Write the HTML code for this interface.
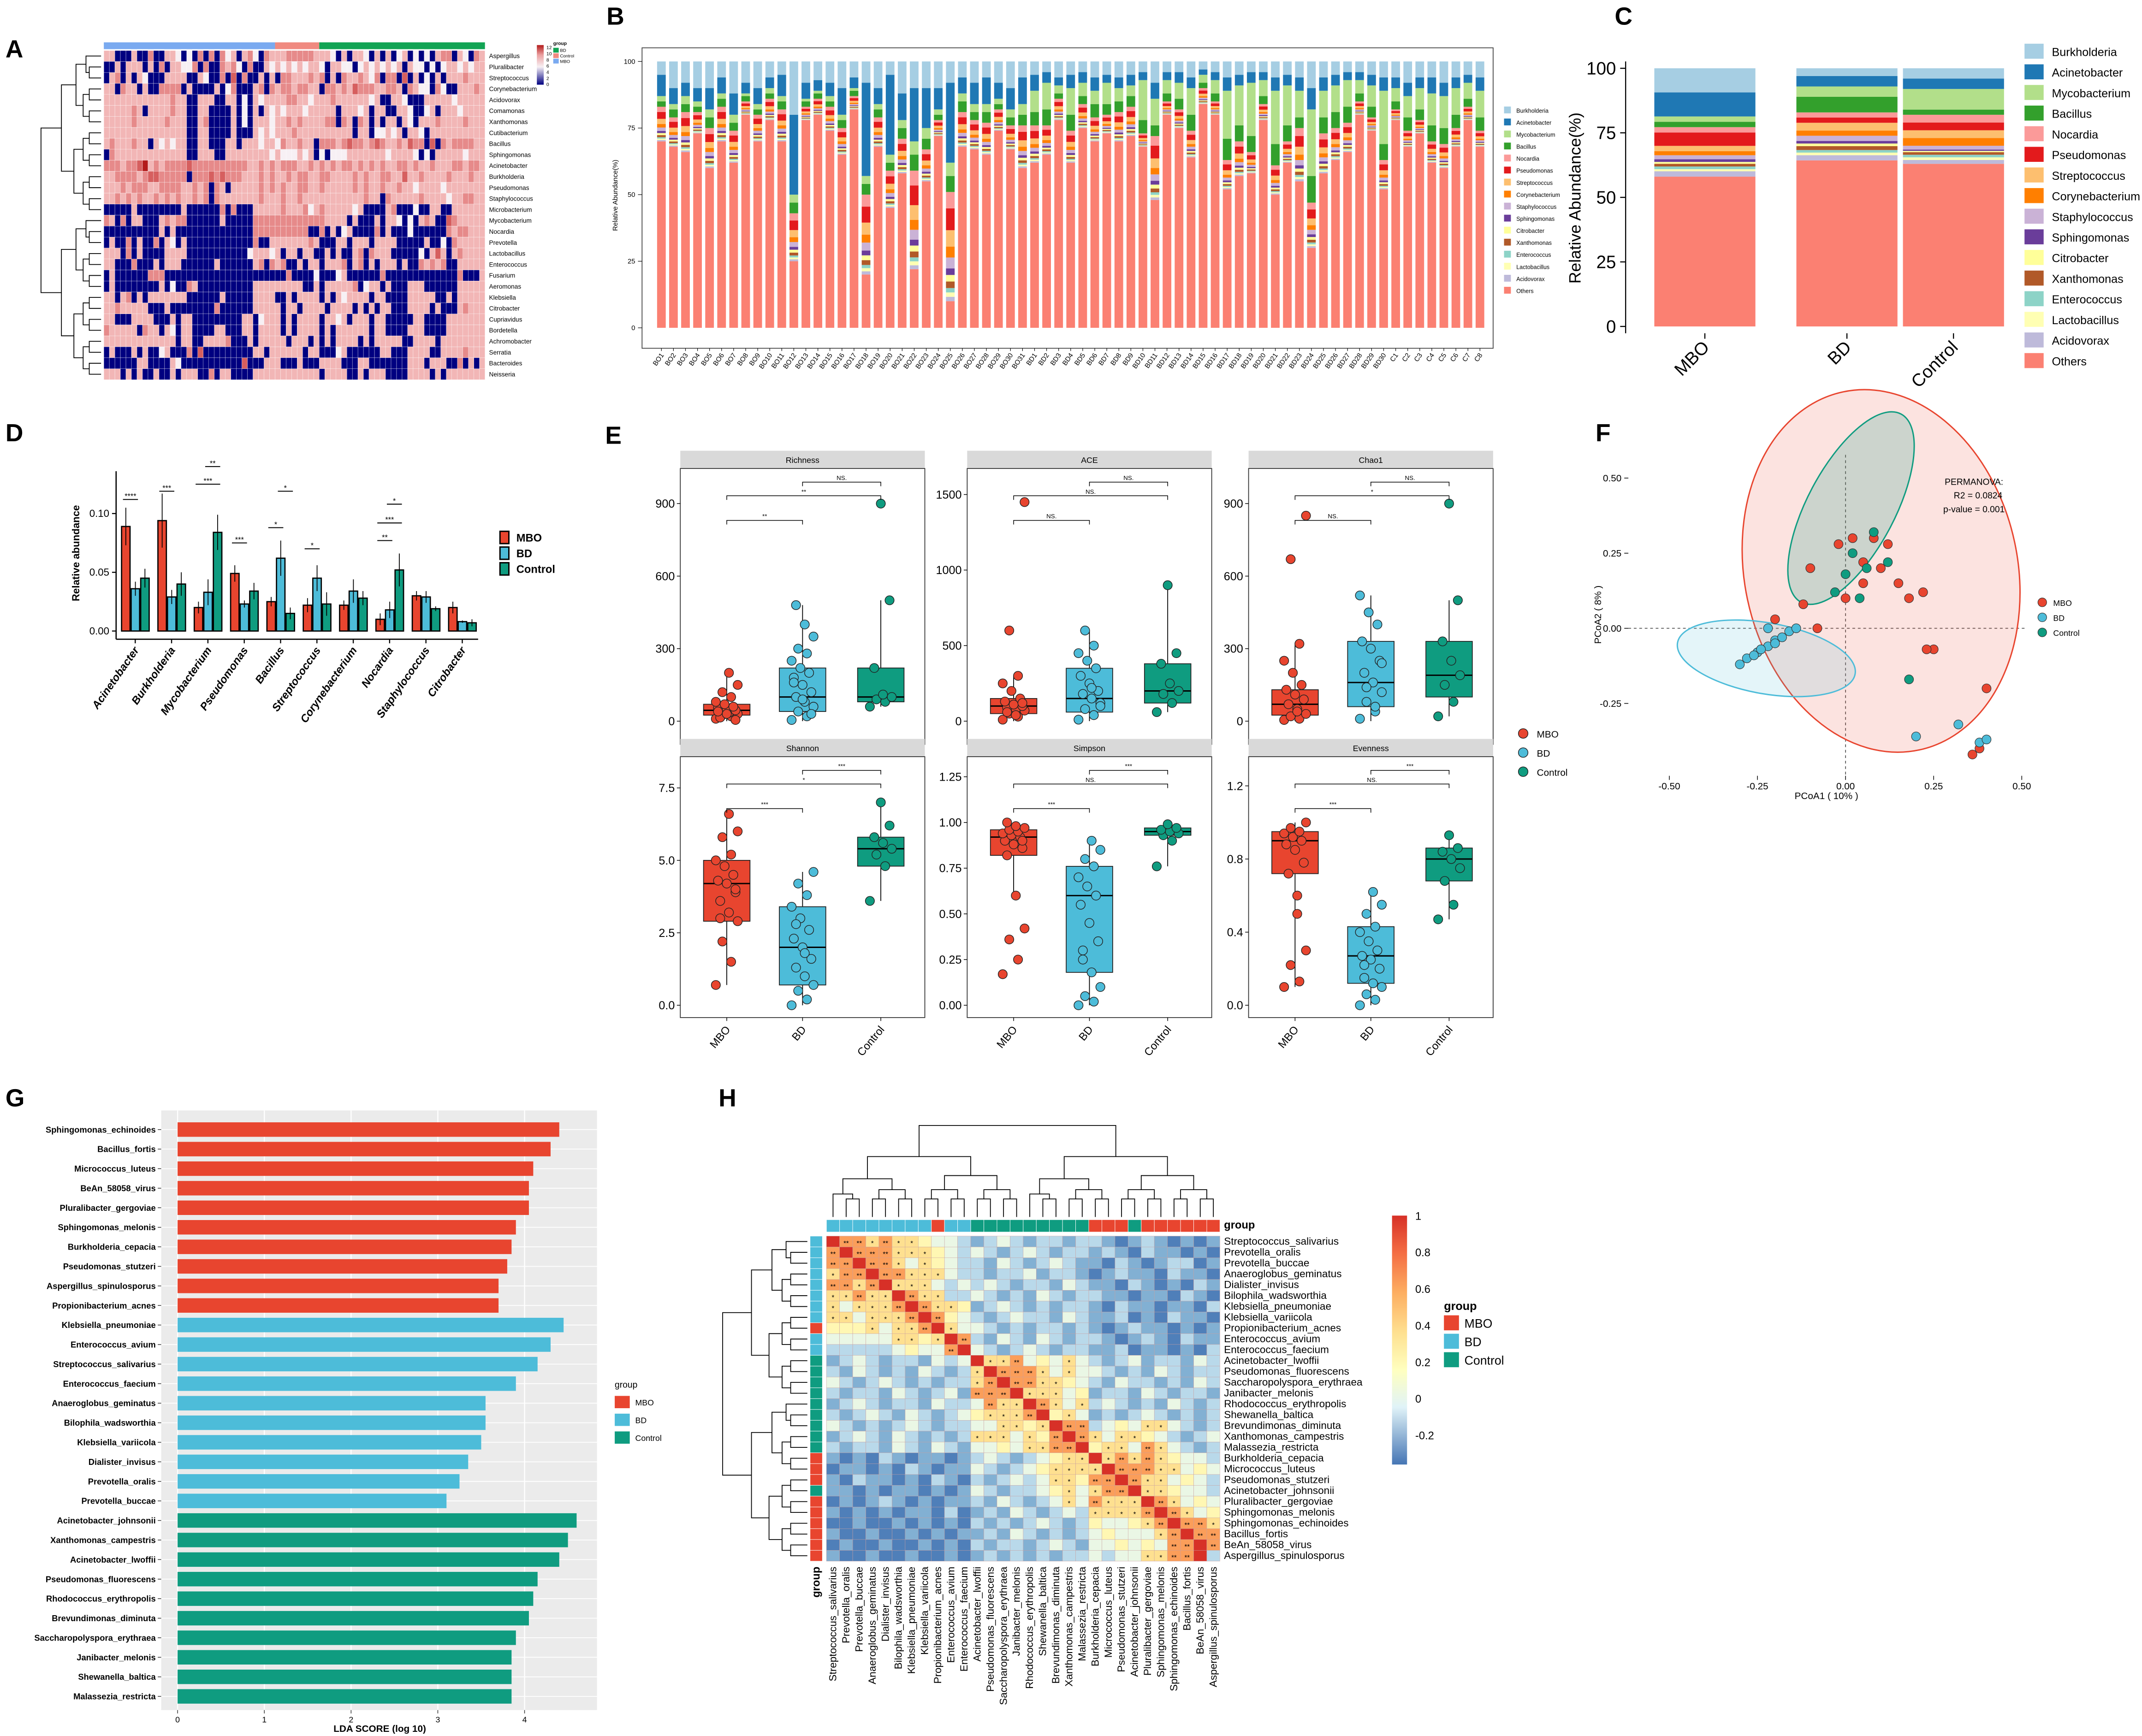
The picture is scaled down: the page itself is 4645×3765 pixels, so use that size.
<!DOCTYPE html>
<html><head><meta charset="utf-8">
<style>
html,body{margin:0;padding:0;background:#fff;}
svg{display:block;font-family:"Liberation Sans",sans-serif;}
</style></head>
<body>
<svg id="fig" xmlns="http://www.w3.org/2000/svg" width="4645" height="3765" viewBox="0 0 1568 1271" preserveAspectRatio="none"></svg>
<script>
// ================= DATA =================
// Panel A heatmap
const hmGenera=["Aspergillus","Pluralibacter","Streptococcus","Corynebacterium","Acidovorax","Comamonas","Xanthomonas","Cutibacterium","Bacillus","Sphingomonas","Acinetobacter","Burkholderia","Pseudomonas","Staphylococcus","Microbacterium","Mycobacterium","Nocardia","Prevotella","Lactobacillus","Enterococcus","Fusarium","Aeromonas","Klebsiella","Citrobacter","Cupriavidus","Bordetella","Achromobacter","Serratia","Bacteroides","Neisseria"];
const hmGroups=["MBO","Control","BD"];
const hmGroupSizes=[31,8,30];
const hmRows=[
"22000200300221010303031202310322233333222102022102020120101023302103",
"00202220203022113030032310300212121212210221101212121202110101221212",
"02302021000222200210030403002020332223230203223213033040201020222322",
"22032202003333020000201300023032332332203323243332233203211031002223",
"22222222222232200222002201021222233221222322222212002210002222212222",
"22222320222232200220000201020212122212222202221202200221001202221222",
"22222322222322200230000201022212232322223303203202022021022232222322",
"22222222222222200220000200021212223222222222202201121202210222222222",
"23222322021212200220002202221221322322033323433234322324330403233332",
"03222222222222200222002222222212111212010111222222212222101022222122",
"33323345232333343333333333223232333223232323323232322332322322233233",
"22333323443333303334343332223232232332233222232322332242232222322232",
"22232333223333223230320222223232322332232222232322322322122221222222",
"22323232232323223230322222223222322322222222222322032222232222122332",
"00000200000000200000030300022222322231232222212000023000100220022222",
"32030220002323300000020000033333333333332222020002022101023200432222",
"00000000002020000000000000033333333330030201200003020001000000323322",
"02003020030210200000000000030022222223200022022202222000002001032222",
"22203020000222200000000000122212022022002020023032220000010242023222",
"22000300020222000000200000023032300202202223023020222020032323002222",
"02000000333000000000000000000000030000100012000000300000000000003000",
"02000000002010032000000000022222222200202222230122020002220000002222",
"22023020222222200000020000022220020222202021222202200002222200202222",
"22322222000200000000300000022222022022220222202020220002222020002322",
"22000222200020220000000002201222020222202212022202200000220000222222",
"32222203220210220000220002202222020222202022222202200002220000222222",
"22222222222220220022223000202222202220202022220202222200222202222222",
"02000202001200030400000000022022222202200012000000220002222002222322",
"00000022000021000000000004000222000200022220002200000002220222003020",
"22202020020020222003022000022222222222202222002022200002222020222222"];
// Panel B stacked bars
const bSamples=["BO1","BO2","BO3","BO4","BO5","BO6","BO7","BO8","BO9","BO10","BO11","BO12","BO13","BO14","BO15","BO16","BO17","BO18","BO19","BO20","BO21","BO22","BO23","BO24","BO25","BO26","BO27","BO28","BO29","BO30","BO31","BD1","BD2","BD3","BD4","BD5","BD6","BD7","BD8","BD9","BD10","BD11","BD12","BD13","BD14","BD15","BD16","BD17","BD18","BD19","BD20","BD21","BD22","BD23","BD24","BD25","BD26","BD27","BD28","BD29","BD30","C1","C2","C3","C4","C5","C6","C7","C8"];
const bOthers=[70,68,66,73,60,70,62,80,70,78,70,25,78,80,74,65,82,20,68,45,58,22,55,72,10,68,67,65,74,67,60,62,65,78,62,75,70,73,70,72,68,48,80,75,64,84,80,52,57,58,78,50,62,55,30,58,63,66,80,74,52,78,68,73,62,60,68,78,68];
const bBurk=[5,10,8,10,10,6,12,8,10,6,5,20,8,7,8,10,6,8,10,5,12,10,10,10,8,6,8,6,8,10,6,5,4,6,5,4,6,5,6,5,4,8,4,4,6,3,4,6,5,4,4,6,5,6,10,6,5,4,4,5,6,6,8,6,6,8,6,5,6];
const bAcin=[8,6,5,5,8,6,8,4,6,4,8,30,6,4,5,10,4,35,6,30,10,20,15,8,30,6,8,10,6,8,10,6,4,3,5,4,5,3,4,4,3,6,3,4,4,2,3,5,4,4,3,5,4,5,8,5,4,3,3,4,5,4,5,4,6,5,4,3,5];
const bMyco=[2,2,3,2,3,2,3,1,2,2,2,3,1,1,2,2,1,3,2,3,3,5,4,2,5,3,3,3,2,3,4,8,10,3,10,5,5,8,5,4,15,10,5,6,10,3,5,18,15,20,6,20,15,10,25,10,10,10,5,8,20,5,8,8,12,12,10,6,10];
const bBacil=[2,3,3,2,4,3,3,2,2,2,3,4,2,2,2,3,2,4,3,3,4,6,4,2,6,4,3,4,2,3,4,5,6,2,6,3,5,4,4,4,5,4,3,4,6,2,3,8,6,6,3,8,6,4,10,6,6,6,3,4,6,3,5,4,6,6,5,3,5];
const taxa=["Burkholderia","Acinetobacter","Mycobacterium","Bacillus","Nocardia","Pseudomonas","Streptococcus","Corynebacterium","Staphylococcus","Sphingomonas","Citrobacter","Xanthomonas","Enterococcus","Lactobacillus","Acidovorax","Others"];
const taxaColors=["#a6cee3","#1f78b4","#b2df8a","#33a02c","#fb9a99","#e31a1c","#fdbf6f","#ff7f00","#cab2d6","#6a3d9a","#ffff99","#b15928","#8dd3c7","#ffffb3","#bebada","#fb8072"];
const restShare=[0,0,0,0,0.15,0.2,0.15,0.1,0.1,0.06,0.06,0.06,0.04,0.04,0.04,0];
// Panel C group composition (order = taxa)
const cGroups=["MBO","BD","Control"];
const cMBO=[9,9,2,2,2,5,2,1.5,1.5,1,0.7,1,1,0.8,2,56];
const cBD=[3,4,4,6,2,2,3,2,2,1,1,1.5,1,1,2,64];
const cCtrl=[4,4,8,2,3,3,3,3,1.5,0.5,0.5,1,1,1,1.5,63];
// Panel D
const dGenera=["Acinetobacter","Burkholderia","Mycobacterium","Pseudomonas","Bacillus","Streptococcus","Corynebacterium","Nocardia","Staphylococcus","Citrobacter"];
const dMBO=[0.089,0.094,0.020,0.049,0.025,0.022,0.022,0.010,0.030,0.020];
const dBD=[0.036,0.029,0.033,0.023,0.062,0.045,0.034,0.018,0.029,0.008];
const dCtrl=[0.045,0.040,0.084,0.034,0.015,0.023,0.028,0.052,0.019,0.007];
const dErrMBO=[0.016,0.023,0.005,0.007,0.004,0.006,0.004,0.005,0.004,0.005];
const dErrBD=[0.006,0.006,0.011,0.003,0.015,0.011,0.010,0.007,0.005,0.001];
const dErrCtrl=[0.008,0.010,0.015,0.007,0.005,0.010,0.006,0.014,0.002,0.003];
const dTicks=[0,0.05,0.10];
// Panel E
const eFacets=["Richness","ACE","Chao1","Shannon","Simpson","Evenness"];
const eTicks=[[0,300,600,900],[0,500,1000,1500],[0,300,600,900],[0.0,2.5,5.0,7.5],[0.00,0.25,0.50,0.75,1.00,1.25],[0.0,0.4,0.8,1.2]];
const eTickLabels=[["0","300","600","900"],["0","500","1000","1500"],["0","300","600","900"],["0.0","2.5","5.0","7.5"],["0.00","0.25","0.50","0.75","1.00","1.25"],["0.0","0.4","0.8","1.2"]];
const eMax=[1000,1600,1000,8.2,1.3,1.3];
const eBoxMBO=[[0,25,45,70,200],[0,50,100,150,300],[0,25,70,130,320],[0.7,2.9,4.2,5.0,6.6],[0.6,0.82,0.92,0.96,1.0],[0.1,0.72,0.9,0.95,1.0]];
const eBoxBD=[[0,40,100,220,480],[0,60,150,350,600],[0,60,160,330,520],[0,0.7,2.0,3.4,4.6],[0,0.18,0.6,0.76,0.9],[0,0.12,0.27,0.43,0.62]];
const eBoxCtrl=[[60,80,100,220,500],[60,120,200,380,900],[20,100,190,330,500],[3.6,4.8,5.4,5.8,7.0],[0.76,0.93,0.95,0.97,0.99],[0.47,0.68,0.8,0.86,0.93]];
const ePtsMBO=[[10,20,25,30,35,40,45,50,55,60,70,80,100,120,150,200,15,5,30,40],[10,30,50,70,80,90,100,110,130,150,200,250,300,600,1450,40,60,120],[5,10,20,30,50,70,90,110,130,150,200,250,320,670,850,40],[0.7,1.5,2.2,2.9,3.2,3.6,3.9,4.2,4.3,4.5,4.8,5.0,5.2,5.8,6.0,6.6,3.0,4.0],[0.17,0.25,0.36,0.42,0.6,0.82,0.86,0.88,0.9,0.92,0.93,0.94,0.95,0.96,0.97,0.98,1.0,0.9],[0.1,0.13,0.22,0.3,0.5,0.72,0.78,0.85,0.88,0.9,0.92,0.94,0.95,0.97,1.0,0.6]];
const ePtsBD=[[5,20,40,60,80,100,120,150,180,200,220,250,280,300,350,400,480,30,90,160],[10,40,80,120,150,180,200,250,300,350,400,450,500,600,100,220],[10,40,80,120,160,200,250,300,330,400,450,520,60,140,240],[0,0.2,0.5,0.7,1.0,1.3,1.6,2.0,2.3,2.6,3.0,3.4,3.8,4.2,4.6,1.8,2.8],[0,0.02,0.05,0.1,0.18,0.25,0.35,0.45,0.55,0.6,0.65,0.7,0.76,0.8,0.85,0.9,0.3],[0,0.03,0.06,0.1,0.12,0.15,0.2,0.25,0.27,0.3,0.35,0.4,0.43,0.5,0.55,0.62,0.22]];
const ePtsCtrl=[[60,80,90,100,110,220,500,900],[60,120,180,200,250,380,450,900],[20,80,150,190,250,330,500,900],[3.6,4.8,5.2,5.4,5.6,5.8,6.2,7.0],[0.76,0.9,0.93,0.94,0.95,0.96,0.97,0.99],[0.47,0.55,0.68,0.75,0.8,0.84,0.86,0.93]];
const eSig=[["NS.","**","**"],["NS.","NS.","NS."],["NS.","*","NS."],["***","*","***"],["***","NS.","***"],["***","NS.","***"]];
// Panel F PCoA
const fMBOx=[0.1,0.05,0.12,0.08,0.02,-0.02,0.15,0.22,0.25,0.23,0.4,0.38,0.36,-0.1,-0.2,-0.12,0.0,-0.08,0.18,0.05];
const fMBOy=[0.2,0.22,0.28,0.3,0.3,0.28,0.15,0.12,-0.07,-0.07,-0.2,-0.4,-0.42,0.2,0.03,0.08,0.1,0.0,0.1,0.15];
const fBDx=[-0.3,-0.28,-0.25,-0.22,-0.2,-0.18,-0.26,-0.24,-0.16,-0.14,0.2,0.38,0.4,0.32,-0.22,-0.2];
const fBDy=[-0.12,-0.1,-0.08,-0.06,-0.04,-0.03,-0.09,-0.07,-0.01,0.0,-0.36,-0.38,-0.37,-0.32,0.0,-0.05];
const fCtrlx=[0.02,0.0,0.06,0.08,-0.03,0.04,0.18,0.12];
const fCtrly=[0.25,0.18,0.2,0.32,0.12,0.1,-0.17,0.22];
const fTicks=[-0.5,-0.25,0,0.25,0.5];
const fTickLabels=["-0.50","-0.25","0.00","0.25","0.50"];
// Panel G LDA
const gTaxa=["Sphingomonas_echinoides","Bacillus_fortis","Micrococcus_luteus","BeAn_58058_virus","Pluralibacter_gergoviae","Sphingomonas_melonis","Burkholderia_cepacia","Pseudomonas_stutzeri","Aspergillus_spinulosporus","Propionibacterium_acnes","Klebsiella_pneumoniae","Enterococcus_avium","Streptococcus_salivarius","Enterococcus_faecium","Anaeroglobus_geminatus","Bilophila_wadsworthia","Klebsiella_variicola","Dialister_invisus","Prevotella_oralis","Prevotella_buccae","Acinetobacter_johnsonii","Xanthomonas_campestris","Acinetobacter_lwoffii","Pseudomonas_fluorescens","Rhodococcus_erythropolis","Brevundimonas_diminuta","Saccharopolyspora_erythraea","Janibacter_melonis","Shewanella_baltica","Malassezia_restricta"];
const gLDA=[4.4,4.3,4.1,4.05,4.05,3.9,3.85,3.8,3.7,3.7,4.45,4.3,4.15,3.9,3.55,3.55,3.5,3.35,3.25,3.1,4.6,4.5,4.4,4.15,4.1,4.05,3.9,3.85,3.85,3.85];
const gGroup=["MBO","MBO","MBO","MBO","MBO","MBO","MBO","MBO","MBO","MBO","BD","BD","BD","BD","BD","BD","BD","BD","BD","BD","Control","Control","Control","Control","Control","Control","Control","Control","Control","Control"];
const gTicks=[0,1,2,3,4];
// Panel H correlation
const hTaxa=["Streptococcus_salivarius","Prevotella_oralis","Prevotella_buccae","Anaeroglobus_geminatus","Dialister_invisus","Bilophila_wadsworthia","Klebsiella_pneumoniae","Klebsiella_variicola","Propionibacterium_acnes","Enterococcus_avium","Enterococcus_faecium","Acinetobacter_lwoffii","Pseudomonas_fluorescens","Saccharopolyspora_erythraea","Janibacter_melonis","Rhodococcus_erythropolis","Shewanella_baltica","Brevundimonas_diminuta","Xanthomonas_campestris","Malassezia_restricta","Burkholderia_cepacia","Micrococcus_luteus","Pseudomonas_stutzeri","Acinetobacter_johnsonii","Pluralibacter_gergoviae","Sphingomonas_melonis","Sphingomonas_echinoides","Bacillus_fortis","BeAn_58058_virus","Aspergillus_spinulosporus"];
const hGroup=["BD","BD","BD","BD","BD","BD","BD","BD","MBO","BD","BD","Control","Control","Control","Control","Control","Control","Control","Control","Control","MBO","MBO","MBO","Control","MBO","MBO","MBO","MBO","MBO","MBO"];
const hRows=[
"RooyoyypwwlblwlbllbllbBblbBbBb","oRoooyyypwlwlblwlbllblbBlbbBbB","ooRooywypwllbwlblwlbbBlbBbllBb","yooRooyyywllbllwbllbBblbbBlbbB",
"ooyoRyyywlwlwlbllbwlbbBlbBbBlb","yyoyyRoyyllwlblbwlbllbbBbbBlbB","ywyyyoRoyypblwlblbllbBlbbBbbBl","yywyyyoRopwlblwllbwlbblBbBlbbB",
"pppywyyoRywwlblbllblbBblbbBbBb","wwwwwyypyRolbwlbwlbllbBblbBlbb","lllllwpwwoRwlblwlbllbblBbbBbBl",
"blwlbllbwlwRyyowpwywlblwbllbwl","lbwlblbwlblyRoooywywwlblbwlbll","wlblwlblbllyoRooyypwlbwllblbwl","lbllbwlblwboooRyyywpbllbwlbllb",
"blwlbllbwllwoyyRoywylwlblbwlbl","lblwlbwlblwpyyyoRpywblblwlblbl","wlblblwlbllwwyypyRoolwpwyywlbl","blwlbwlblblyyywypoRoywyypwlblw","lbllbwlbwlbwwpwyyooRpyywoywlbl",
"bBbBlbBbbBblwlblwpyyRyoyoypwwl","BbbBbBlbBbbwlblwpyyyyRoooyywpw","bBlbbBbBlbBlblwlwyypooRoyywpwl","bbBbBbbBbBbwlbllwpywyooRyypwwl",
"BbBblbBbBbblbwlblwywoyyyRoywpw","bBbBbBbbBlBblbwlblwlyyyyoRoywp","BBbBBbBbBbBlblblwlblpwwpyoRooy","bBBbBBbBbBbblbwlblblwpwwwyoRoo",
"BbBBbBBbBbBlbllblwlbwwpwpwooRo","bBBbBBbBBbBblblblbllwlwwyyooR"];
const hLevels={R:1.0,o:0.65,y:0.4,p:0.25,w:0.1,l:0.0,b:-0.08,B:-0.18};
const hTicks=[1,0.8,0.6,0.4,0.2,0,-0.2];
const hTickLabels=["1","0.8","0.6","0.4","0.2","0","-0.2"];

// ================= HELPERS =================
const NS="http://www.w3.org/2000/svg";
const svg=document.getElementById('fig');
function mk(tag,attrs,name,parent,inter){
  const el=document.createElementNS(NS,tag);
  for(const k in attrs) el.setAttribute(k,attrs[k]);
  
  
  (parent||svg).appendChild(el);
  return el;
}
function txt(x,y,s,size,name,opt){
  opt=opt||{};
  const a={x:x,y:y,'font-size':size,fill:opt.fill||'#000'};
  if(opt.anchor) a['text-anchor']=opt.anchor;
  if(opt.weight) a['font-weight']=opt.weight;
  if(opt.style) a['font-style']=opt.style;
  if(opt.rot!==undefined) a.transform='rotate('+opt.rot+' '+x+' '+y+')';
  const t=mk('text',a,name,opt.parent,false);
  t.textContent=s;
  return t;
}
function line(x1,y1,x2,y2,name,st,w,parent,dash){
  const a={x1:x1,y1:y1,x2:x2,y2:y2,stroke:st||'#000','stroke-width':w||0.6};
  if(dash) a['stroke-dasharray']=dash;
  return mk('line',a,name,parent,false);
}
function rect(x,y,w,h,fill,name,parent,stroke,sw){
  const a={x:x,y:y,width:Math.max(0,w),height:Math.max(0,h),fill:fill};
  if(stroke){a.stroke=stroke;a['stroke-width']=sw||0.5;}
  return mk('rect',a,name,parent,false);
}
function group(name){return mk('g',{},name,svg,false);}
function dendro(g,pos,base,depth,orient,name){
  function rec(lo,hi,lvl){
    if(hi-lo<=1){return {p:pos[lo],h:base};}
    const mid=Math.floor((lo+hi)/2);
    const a=rec(lo,mid,lvl+1), b=rec(mid,hi,lvl+1);
    const h=base+depth*Math.pow((hi-lo)/pos.length,0.6);
    let d;
    if(orient==='left') d='M'+(a.h)+' '+a.p+'H'+(h)+'V'+b.p+'H'+(b.h);
    else d='M'+a.p+' '+a.h+'V'+h+'H'+b.p+'V'+b.h;
    mk('path',{d:d,fill:'none',stroke:'#000','stroke-width':0.6},name,g,false);
    return {p:(a.p+b.p)/2,h:h};
  }
  rec(0,pos.length,0);
}
function panelLabel(x,y,s){txt(x,y,s,18,'panel-label-'+s.toLowerCase(),{weight:'bold'});}

// ================= PANEL A =================
(function(){
  const g=group('panel-a-heatmap');
  const x0=76,x1=355,y0=37,y1=278;
  const nC=hmGroupSizes.reduce((a,b)=>a+b,0);
  const cw=(x1-x0)/nC, rh=(y1-y0)/hmGenera.length;
  const lvCol=['#000080','#f7f0f4','#f2b6b6','#e68a8a','#d65f5f','#b31b1b'];
  const grpCol={MBO:'#7aaaf0',Control:'#f08a80',BD:'#12a454'};
  let c=0;
  hmGroups.forEach((gn,gi)=>{
    rect(x0+c*cw,31,hmGroupSizes[gi]*cw,5,grpCol[gn],'group-bar-'+gn.toLowerCase(),g);
    c+=hmGroupSizes[gi];
  });
  hmGenera.forEach((gen,r)=>{
    const s=hmRows[r];
    for(let i=0;i<nC;i++){
      const v=+(s[i]||'2');
      rect(x0+i*cw,y0+r*rh,cw,rh,lvCol[v],'heatmap-cell',g,'#ffffff',0.15);
    }
    txt(x1+3,y0+r*rh+rh*0.7,gen,4.6,'row-label-'+gen.toLowerCase(),{parent:g});
  });
  const pos=hmGenera.map((_,r)=>y0+r*rh+rh/2);
  dendro(g,pos,74,-44,'left','row-dendrogram');
  const defs=mk('defs',{},'defs',svg,false);
  const lg=mk('linearGradient',{id:'hmgrad',x1:0,y1:1,x2:0,y2:0},'gradient',defs,false);
  [['0','#000080'],['0.45','#f7f0f4'],['0.75','#eba0a0'],['1','#b31b1b']].forEach(s=>mk('stop',{offset:s[0],'stop-color':s[1]},'stop',lg,false));
  rect(393,33,5,29,'url(#hmgrad)','color-scale-bar',g);
  [[12,35],[10,39.5],[8,44],[6,48.5],[4,53],[2,57.5],[0,62]].forEach(t=>txt(400,t[1]+1,String(t[0]),3.5,'color-scale-tick',{parent:g}));
  txt(405,33,'group',3.5,'group-legend-title',{parent:g,weight:'bold'});
  [['BD','#12a454'],['Control','#f08a80'],['MBO','#7aaaf0']].forEach((e,i)=>{
    rect(405,35+i*4,4,3.5,e[1],'group-legend-swatch',g);
    txt(410,38+i*4,e[0],3.2,'group-legend-label',{parent:g});
  });
  panelLabel(4,42,'A');
})();

// ================= PANEL B =================
(function(){
  const g=group('panel-b-stacked-bars');
  rect(470,35,623,220,'none','plot-frame',g,'#444',0.6);
  const yb=240,yt=45;
  const ys=v=>yb-(yb-yt)*v/100;
  const n=bSamples.length, step=(1088-480)/n, bw=step*0.72;
  [0,25,50,75,100].forEach(t=>{
    line(467,ys(t),470,ys(t),'y-tick',null,0.4,g);
    txt(465,ys(t)+1.7,String(t),5,'y-tick-label',{parent:g,anchor:'end'});
  });
  txt(452,143,'Relative Abundance(%)',5,'y-axis-title',{parent:g,anchor:'middle',rot:-90});
  bSamples.forEach((s,i)=>{
    const x=481+i*step;
    const vals=new Array(16).fill(0);
    vals[15]=bOthers[i];vals[0]=bBurk[i];vals[1]=bAcin[i];vals[2]=bMyco[i];vals[3]=bBacil[i];
    const rest=Math.max(0,100-vals[15]-vals[0]-vals[1]-vals[2]-vals[3]);
    for(let k=4;k<15;k++) vals[k]=rest*restShare[k];
    let acc=0;
    for(let k=15;k>=0;k--){
      const y1=ys(acc), y2=ys(acc+vals[k]);
      rect(x,y2,bw,y1-y2,taxaColors[k],'bar-'+s.toLowerCase()+'-'+taxa[k].toLowerCase(),g);
      acc+=vals[k];
    }
    line(x+bw/2,255,x+bw/2,257,'x-tick',null,0.4,g);
    txt(x+bw/2+2,260,s,5,'x-tick-label',{parent:g,anchor:'end',rot:-55});
  });
  taxa.forEach((t,k)=>{
    rect(1101,78+k*8.8,5,5,taxaColors[k],'legend-swatch-'+t.toLowerCase(),g);
    txt(1110,82.5+k*8.8,t,4.2,'legend-label-'+t.toLowerCase(),{parent:g});
  });
  panelLabel(444,18,'B');
})();

// ================= PANEL C =================
(function(){
  const g=group('panel-c-group-bars');
  const yb=239,yt=50;
  const ys=v=>yb-(yb-yt)*v/100;
  line(1190,45,1190,244,'y-axis',null,0.8,g);
  [0,25,50,75,100].forEach(t=>{
    line(1186,ys(t),1190,ys(t),'y-tick',null,0.8,g);
    txt(1183,ys(t)+4.5,String(t),13,'y-tick-label',{parent:g,anchor:'end'});
  });
  txt(1157,145,'Relative Abundance(%)',12,'y-axis-title',{parent:g,anchor:'middle',rot:-90});
  const data=[cMBO,cBD,cCtrl];
  const xc=[1248,1352,1430];
  cGroups.forEach((gn,gi)=>{
    let acc=0;
    const tot=data[gi].reduce((a,b)=>a+b,0);
    for(let k=15;k>=0;k--){
      const v=data[gi][k]*100/tot;
      const y1=ys(acc),y2=ys(acc+v);
      rect(xc[gi]-37,y2,74,y1-y2,taxaColors[k],'bar-'+gn.toLowerCase()+'-'+taxa[k].toLowerCase(),g);
      acc+=v;
    }
    line(xc[gi],244,xc[gi],248,'x-tick',null,0.8,g);
    txt(xc[gi]+4,255,gn,13,'x-tick-label',{parent:g,anchor:'end',rot:-45});
  });
  taxa.forEach((t,k)=>{
    rect(1482,32+k*15.1,14,11,taxaColors[k],'legend-swatch-'+t.toLowerCase(),g);
    txt(1502,41+k*15.1,t,8.5,'legend-label-'+t.toLowerCase(),{parent:g});
  });
  panelLabel(1182,18,'C');
})();

// ================= PANEL D =================
(function(){
  const g=group('panel-d-grouped-bars');
  const yb=462,ytop=376;
  const ys=v=>yb-(yb-ytop)*v/0.10;
  line(85,345,85,468,'y-axis',null,0.9,g);
  line(85,468,350,468,'x-axis',null,0.9,g);
  dTicks.forEach(t=>{
    line(82,ys(t),85,ys(t),'y-tick',null,0.8,g);
    txt(80,ys(t)+2.5,t.toFixed(2),7.5,'y-tick-label',{parent:g,anchor:'end'});
  });
  txt(58,405,'Relative abundance',7.5,'y-axis-title',{parent:g,anchor:'middle',rot:-90,weight:'bold'});
  const cols=['#e8452f','#4dbcd9','#0f9c80'];
  const sets=[dMBO,dBD,dCtrl], errs=[dErrMBO,dErrBD,dErrCtrl], gnames=['mbo','bd','control'];
  const gap=26.6;
  dGenera.forEach((gen,i)=>{
    const xc=99+i*gap;
    for(let s=0;s<3;s++){
      const x=xc-10+s*7;
      const v=sets[s][i];
      rect(x,ys(v),6.2,yb-ys(v),cols[s],'bar-'+gen.toLowerCase()+'-'+gnames[s],g,'#000',0.9);
      line(x+3.1,ys(v),x+3.1,ys(v+errs[s][i]),'error-bar',null,0.6,g);
      line(x+3.1,ys(v),x+3.1,ys(v-errs[s][i]),'error-bar',null,0.6,g);
    }
    line(xc,468,xc,471,'x-tick',null,0.8,g);
    txt(xc+3,476,gen,8,'x-tick-label',{parent:g,anchor:'end',rot:-55,weight:'bold',style:'italic'});
  });
  const sig=[[0,0,1,0.112,'****'],[1,0,1,0.119,'***'],[2,0,2,0.125,'***'],[2,1,2,0.140,'**'],[3,0,1,0.075,'***'],[4,0,1,0.088,'*'],[4,1,2,0.119,'*'],[5,0,1,0.070,'*'],[7,0,1,0.077,'**'],[7,0,2,0.092,'***'],[7,1,2,0.108,'*']];
  sig.forEach(s=>{
    const xa=99+s[0]*gap-10+s[1]*7+3, xb=99+s[0]*gap-10+s[2]*7+3;
    line(xa-2,ys(s[3]),xb+2,ys(s[3]),'significance-line',null,0.7,g);
    txt((xa+xb)/2,ys(s[3])-0.5,s[4],5.5,'significance-stars',{parent:g,anchor:'middle'});
  });
  [['MBO',cols[0]],['BD',cols[1]],['Control',cols[2]]].forEach((e,i)=>{
    rect(366,389+i*11.5,6.5,9,e[1],'legend-swatch-'+e[0].toLowerCase(),g,'#000',1);
    txt(378,396.5+i*11.5,e[0],8,'legend-label-'+e[0].toLowerCase(),{parent:g,weight:'bold'});
  });
  panelLabel(4,323,'D');
})();

// ================= PANEL E =================
(function(){
  const g=group('panel-e-alpha-diversity');
  const fx=[498,708,914], fw=179;
  const rowsY=[[330,343,545,528],[541,554,745,736]];
  const cols=['#e8452f','#4dbcd9','#0f9c80'];
  const boxes=[eBoxMBO,eBoxBD,eBoxCtrl], pts=[ePtsMBO,ePtsBD,ePtsCtrl];
  const gnames=['MBO','BD','Control'];
  eFacets.forEach((f,fi)=>{
    const r=Math.floor(fi/3), c=fi%3;
    const x0=fx[c], [sy,py,pb,zeroY]=rowsY[r];
    rect(x0,sy,fw,13,'#d9d9d9','strip-'+f.toLowerCase(),g);
    txt(x0+fw/2,sy+9,f,6,'strip-label-'+f.toLowerCase(),{parent:g,anchor:'middle'});
    rect(x0,py,fw,pb-py,'#fff','facet-panel-'+f.toLowerCase(),g,'#333',0.6);
    const topY=py+8;
    const ys=v=>zeroY-(zeroY-topY)*v/eMax[fi];
    eTicks[fi].forEach((t,ti)=>{
      line(x0-2.5,ys(t),x0,ys(t),'y-tick',null,0.5,g);
      txt(x0-4,ys(t)+3,eTickLabels[fi][ti],8.5,'y-tick-label',{parent:g,anchor:'end'});
    });
    const xc=[x0+fw*0.19,x0+fw*0.5,x0+fw*0.82];
    for(let k=0;k<3;k++){
      const b=boxes[k][fi];
      line(xc[k],ys(b[0]),xc[k],ys(b[4]),'whisker',null,0.6,g);
      rect(xc[k]-17,ys(b[3]),34,ys(b[1])-ys(b[3]),cols[k],'box-'+f.toLowerCase()+'-'+gnames[k].toLowerCase(),g,'#222',0.6);
      line(xc[k]-17,ys(b[2]),xc[k]+17,ys(b[2]),'median-line',null,1,g);
      pts[k][fi].forEach((v,j)=>{
        const jx=((j*7)%11-5)*1.6;
        mk('circle',{cx:xc[k]+jx,cy:ys(v),r:3.3,fill:cols[k],stroke:'#222','stroke-width':0.5},'point-'+f.toLowerCase()+'-'+gnames[k].toLowerCase(),g,false);
      });
      if(r===1){
        line(xc[k],pb,xc[k],pb+2.5,'x-tick',null,0.5,g);
        txt(xc[k]+3,pb+9,gnames[k],8,'x-tick-label',{parent:g,anchor:'end',rot:-50});
      }
    }
    const br=[[1,2,py+10,eSig[fi][0]],[0,2,py+20,eSig[fi][1]],[0,1,py+38,eSig[fi][2]]];
    br.forEach(b=>{
      const pth='M'+xc[b[0]]+' '+(b[2]+3)+'V'+b[2]+'H'+xc[b[1]]+'V'+(b[2]+3);
      mk('path',{d:pth,fill:'none',stroke:'#000','stroke-width':0.5},'significance-bracket',g,false);
      txt((xc[b[0]]+xc[b[1]])/2,b[2]-1.5,b[3],4.5,'significance-label',{parent:g,anchor:'middle'});
    });
  });
  gnames.forEach((n,k)=>{
    mk('circle',{cx:1115,cy:537+k*14,r:3.5,fill:cols[k],stroke:'#222','stroke-width':0.5},'legend-marker-'+n.toLowerCase(),g,false);
    txt(1125,540+k*14,n,7,'legend-label-'+n.toLowerCase(),{parent:g});
  });
  panelLabel(443,325,'E');
})();

// ================= PANEL F =================
(function(){
  const g=group('panel-f-pcoa');
  const xs=v=>1351+v*258, ys=v=>460-v*220;
  line(xs(0),333,xs(0),568,'zero-line-x','#555',0.6,g,'2,2');
  line(1192,ys(0),1482,ys(0),'zero-line-y','#555',0.6,g,'2,2');
  fTicks.forEach((t,i)=>{
    line(xs(t),568,xs(t),571,'x-tick',null,0.5,g);
    txt(xs(t),578,fTickLabels[i],7,'x-tick-label',{parent:g,anchor:'middle'});
    if(t>=-0.25){
      line(1189,ys(t),1192,ys(t),'y-tick',null,0.5,g);
      txt(1187,ys(t)+2.5,fTickLabels[i],7,'y-tick-label',{parent:g,anchor:'end'});
    }
  });
  txt(1337,585,'PCoA1 ( 10% )',7,'x-axis-title',{parent:g,anchor:'middle'});
  txt(1172,450,'PCoA2 ( 8% )',7,'y-axis-title',{parent:g,anchor:'middle',rot:-90});
  mk('ellipse',{cx:1377,cy:418,rx:100,ry:134,fill:'#e8452f','fill-opacity':0.15,stroke:'#e8452f','stroke-width':1,transform:'rotate(-12 1377 418)'},'ellipse-mbo',g,false);
  mk('ellipse',{cx:1355,cy:372,rx:32,ry:78,fill:'#0f9c80','fill-opacity':0.2,stroke:'#0f9c80','stroke-width':1,transform:'rotate(28 1355 372)'},'ellipse-control',g,false);
  mk('ellipse',{cx:1293,cy:482,rx:66,ry:26,fill:'#4dbcd9','fill-opacity':0.15,stroke:'#4dbcd9','stroke-width':1,transform:'rotate(10 1293 482)'},'ellipse-bd',g,false);
  const sets=[[fMBOx,fMBOy,'#e8452f','mbo'],[fBDx,fBDy,'#4dbcd9','bd'],[fCtrlx,fCtrly,'#0f9c80','control']];
  sets.forEach(s=>s[0].forEach((x,i)=>{
    mk('circle',{cx:xs(x),cy:ys(s[1][i]),r:3.3,fill:s[2],stroke:'#333','stroke-width':0.4},'point-'+s[3],g,false);
  }));
  txt(1445,355,'PERMANOVA:',6.5,'permanova-title',{parent:g,anchor:'middle'});
  txt(1448,365,'R2 = 0.0824',6.5,'permanova-r2',{parent:g,anchor:'middle'});
  txt(1445,375,'p-value = 0.001',6.5,'permanova-p',{parent:g,anchor:'middle'});
  [['MBO','#e8452f'],['BD','#4dbcd9'],['Control','#0f9c80']].forEach((e,i)=>{
    mk('circle',{cx:1495,cy:441+i*11,r:3.2,fill:e[1],stroke:'#333','stroke-width':0.4},'legend-marker-'+e[0].toLowerCase(),g,false);
    txt(1503,443.5+i*11,e[0],6,'legend-label-'+e[0].toLowerCase(),{parent:g});
  });
  panelLabel(1168,323,'F');
})();

// ================= PANEL G =================
(function(){
  const g=group('panel-g-lda');
  const x0=118,x1=437,y0=813,y1=1252;
  rect(x0,y0,x1-x0,y1-y0,'#ebebeb','plot-background',g);
  const xs=v=>130+v*63.5;
  gTicks.forEach(t=>{
    line(xs(t),y0,xs(t),y1,'grid-line','#fff',0.8,g);
    line(xs(t),y1,xs(t),y1+2.5,'x-tick','#333',0.5,g);
    txt(xs(t),y1+9,String(t),6,'x-tick-label',{parent:g,anchor:'middle'});
  });
  const step=(1242-827)/29;
  const col={MBO:'#e8452f',BD:'#4dbcd9',Control:'#0f9c80'};
  gTaxa.forEach((t,i)=>{
    const yc=827+i*step;
    line(x0,yc,x1,yc,'grid-line','#fff',0.6,g);
    rect(xs(0),yc-5.3,xs(gLDA[i])-xs(0),10.6,col[gGroup[i]],'bar-'+t.toLowerCase(),g);
    line(x0-2.5,yc,x0,yc,'y-tick','#333',0.5,g);
    txt(x0-4,yc+2.2,t,6.2,'y-tick-label',{parent:g,anchor:'end',weight:'bold'});
  });
  txt(278,1268,'LDA SCORE (log 10)',7,'x-axis-title',{parent:g,anchor:'middle',weight:'bold'});
  txt(450,1016,'group',6.5,'legend-title',{parent:g});
  ['MBO','BD','Control'].forEach((n,i)=>{
    rect(450,1022+i*13,11,9,col[n],'legend-swatch-'+n.toLowerCase(),g);
    txt(465,1029+i*13,n,6,'legend-label-'+n.toLowerCase(),{parent:g});
  });
  panelLabel(4,810,'G');
})();

// ================= PANEL H =================
(function(){
  const g=group('panel-h-correlation');
  const x0=605,x1=893,y0=905,y1=1143;
  const n=hTaxa.length, cw=(x1-x0)/n, rh=(y1-y0)/n;
  function colorOf(v){
    const stops=[[-0.3,[49,54,149]],[-0.2,[69,117,180]],[-0.05,[145,191,219]],[0.05,[224,243,248]],[0.2,[255,255,191]],[0.4,[254,224,144]],[0.6,[253,174,97]],[0.8,[244,109,67]],[1.0,[215,48,39]]];
    for(let i=0;i<stops.length-1;i++){
      if(v<=stops[i+1][0]){
        const t=Math.max(0,(v-stops[i][0])/(stops[i+1][0]-stops[i][0]));
        const c=stops[i][1].map((a,j)=>Math.round(a+(stops[i+1][1][j]-a)*t));
        return 'rgb('+c.join(',')+')';
      }
    }
    return 'rgb(215,48,39)';
  }
  const gcol={MBO:'#e8452f',BD:'#4dbcd9',Control:'#0f9c80'};
  hTaxa.forEach((t,r)=>{
    for(let c=0;c<n;c++){
      const ch=hRows[r][c]||'l';
      const v=hLevels[ch];
      rect(x0+c*cw,y0+r*rh,cw,rh,colorOf(v),'corr-cell',g,'#c9a0a0',0.2);
      if((ch==='o'||ch==='y')&&r!==c) txt(x0+c*cw+cw/2,y0+r*rh+rh*0.85,ch==='o'?'**':'*',5,'significance-mark',{parent:g,anchor:'middle'});
    }
    txt(x1+3,y0+r*rh+rh*0.8,t,7.6,'row-label-'+t.toLowerCase(),{parent:g});
    txt(x0+r*cw+cw*0.75,y1+4,t,7.6,'col-label-'+t.toLowerCase(),{parent:g,anchor:'end',rot:-90});
    rect(x0+r*cw,893,cw,9,gcol[hGroup[r]],'col-group-annotation',g,'#fff',0.3);
    rect(593,y0+r*rh,9,rh,gcol[hGroup[r]],'row-group-annotation',g,'#fff',0.3);
  });
  txt(x1+3,899.5,'group',8,'col-annotation-title',{parent:g,weight:'bold'});
  txt(600,1147,'group',8,'row-annotation-title',{parent:g,anchor:'end',rot:-90,weight:'bold'});
  dendro(g,hTaxa.map((_,c)=>x0+c*cw+cw/2),891,-67,'top','col-dendrogram');
  dendro(g,hTaxa.map((_,r)=>y0+r*rh+rh/2),591,-62,'left','row-dendrogram');
  const defs=mk('defs',{},'defs',svg,false);
  const lg=mk('linearGradient',{id:'corrgrad',x1:0,y1:1,x2:0,y2:0},'gradient',defs,false);
  [['0','#4575b4'],['0.23','#e0f3f8'],['0.38','#ffffbf'],['0.53','#fee090'],['0.69','#fdae61'],['0.85','#f46d43'],['1','#d73027']].forEach(s=>mk('stop',{offset:s[0],'stop-color':s[1]},'stop',lg,false));
  const ys=v=>1024-v*134;
  rect(1019,ys(1),11,ys(-0.36)-ys(1),'url(#corrgrad)','color-scale-bar',g);
  hTicks.forEach((t,i)=>txt(1036,ys(t)+3,hTickLabels[i],8,'color-scale-tick',{parent:g}));
  txt(1057,959,'group',8.5,'group-legend-title',{parent:g,weight:'bold'});
  [['MBO','#e8452f'],['BD','#4dbcd9'],['Control','#0f9c80']].forEach((e,i)=>{
    rect(1057,963+i*13.5,11,11,e[1],'group-legend-swatch-'+e[0].toLowerCase(),g);
    txt(1072,972+i*13.5,e[0],9,'group-legend-label-'+e[0].toLowerCase(),{parent:g});
  });
  panelLabel(526,810,'H');
})();
</script>
</body></html>
